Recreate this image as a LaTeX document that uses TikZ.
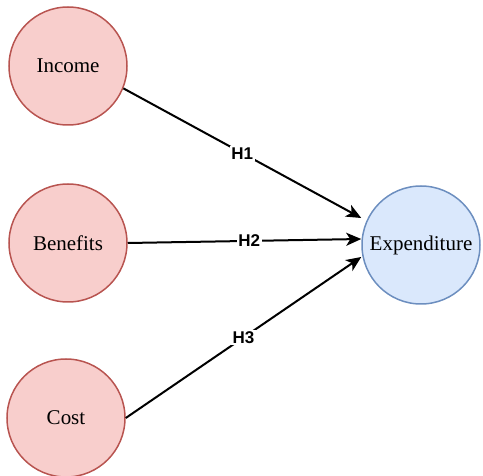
\documentclass[tikz,border=0pt]{standalone}
\usepackage{fontspec}
\setmainfont{Liberation Serif}
\newfontfamily\labelfont{Liberation Sans}
\usetikzlibrary{arrows.meta}
\definecolor{redfill}{HTML}{F8CECC}
\definecolor{redline}{HTML}{B85450}
\definecolor{bluefill}{HTML}{DAE8FC}
\definecolor{blueline}{HTML}{6C8EBF}
\tikzset{
  varcirc/.style={circle, minimum size=118pt, inner sep=0pt, line width=1.5pt,
    font=\fontsize{21}{25}\selectfont},
  redcirc/.style={varcirc, draw=redline, fill=redfill},
  bluecirc/.style={varcirc, draw=blueline, fill=bluefill},
  hyp/.style={line width=2pt, -{Stealth[length=15pt,width=13pt,inset=4pt]}},
  hlabel/.style={fill=white, inner sep=1.5pt, font=\labelfont\bfseries\fontsize{17}{19}\selectfont}
}
\begin{document}
\begin{tikzpicture}[x=1pt,y=1pt]
\useasboundingbox (0,0) rectangle (483,475);
\begin{scope}
\clip (0,0) rectangle (483,475);
\node[redcirc] (inc) at (68,409) {Income};
\node[redcirc] (ben) at (68,232) {Benefits};
\node[redcirc] (cost) at (66,57) {Cost};
\node[bluecirc] (exp) at (421,230) {Expenditure};
\coordinate (t1) at ([yshift=27pt]exp.west);
\coordinate (t2) at ([yshift=6pt]exp.west);
\coordinate (t3) at ([yshift=-12pt]exp.west);
\draw[hyp] (inc.-22) -- node[hlabel, pos=0.5] {H1} (t1);
\draw[hyp] (ben.east) -- node[hlabel, pos=0.52] {H2} (t2);
\draw[hyp] (cost.east) -- node[hlabel, pos=0.5] {H3} (t3);
\end{scope}
\end{tikzpicture}
\end{document}
